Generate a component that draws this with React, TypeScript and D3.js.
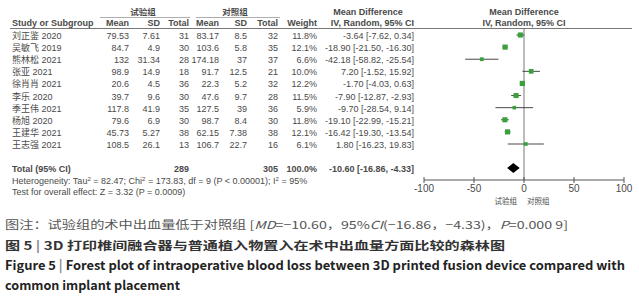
import React from "react";
import * as d3 from "d3";

const studies = ["刘正鉴 2020", "吴敏飞 2019", "熊林松 2021", "张亚 2021", "徐肖肖 2021", "李乐 2020", "季王伟 2021", "杨旭 2020", "王建华 2021", "王志强 2021"];
const expMean = [79.53, 84.7, 132, 98.9, 20.6, 39.7, 117.8, 79.6, 45.73, 108.5];
const expSD = [7.61, 4.9, 31.34, 14.9, 4.5, 9.6, 41.9, 6.9, 5.27, 26.1];
const expTotal = [31, 30, 28, 18, 36, 30, 35, 30, 38, 13];
const ctlMean = [83.17, 103.6, 174.18, 91.7, 22.3, 47.6, 127.5, 98.7, 62.15, 106.7];
const ctlSD = [8.5, 5.8, 37, 12.5, 5.2, 9.7, 39, 8.4, 7.38, 22.7];
const ctlTotal = [32, 35, 37, 21, 32, 28, 36, 30, 38, 16];
const weights = [11.8, 12.1, 6.6, 10.0, 12.2, 11.5, 5.9, 11.8, 12.1, 6.1];
const md = [-3.64, -18.9, -42.18, 7.2, -1.7, -7.9, -9.7, -19.1, -16.42, 1.8];
const ciLow = [-7.62, -21.5, -58.82, -1.52, -4.03, -12.87, -28.54, -22.99, -19.3, -16.23];
const ciHigh = [0.34, -16.3, -25.54, 15.92, 0.63, -2.93, 9.14, -15.21, -13.54, 19.83];
const pooled = { md: -10.6, low: -16.86, high: -4.33, expTotal: 289, ctlTotal: 305, weight: 100.0 };
const xTicks = [-100, -50, 0, 50, 100];

const FONT = "'Liberation Sans', Arial, 'Noto Sans CJK SC', sans-serif";
const CJK = "'Noto Sans CJK SC', sans-serif";
const TXT = "#4a4a4a";

export default function App() {
  const x = d3.scaleLinear().domain([-100, 100]).range([424, 624]);
  const y = d3.scaleLinear().domain([0, 9]).range([36, 145]);
  const size = d3.scaleSqrt().domain([0, 12.2]).range([0, 5.2]);
  const fmt = (v: number) => v.toFixed(2);
  const ci = (m: number, l: number, h: number) => `${fmt(m)} [${fmt(l)}, ${fmt(h)}]`;
  const axisY = 180;
  const totalY = 169;

  const cols = [
    { x: 129, vals: expMean.map(String) },
    { x: 160, vals: expSD.map(String) },
    { x: 189, vals: expTotal.map(String) },
    { x: 219, vals: ctlMean.map(String) },
    { x: 247, vals: ctlSD.map(String) },
    { x: 278, vals: ctlTotal.map(String) },
    { x: 317, vals: weights.map((w) => w.toFixed(1) + "%") },
    { x: 414, vals: md.map((m, i) => ci(m, ciLow[i], ciHigh[i])) },
  ];

  return (
    <svg width={639} height={300} style={{ position: "absolute", left: 0, top: 0, background: "#fff" }}>
      <rect width={639} height={300} fill="#fff" />
      <g fontFamily={FONT} fontSize={9} fill={TXT}>
        {/* group headers */}
        <text x={143} y={15} textAnchor="middle" fontWeight="bold" fontFamily={CJK} fontSize={8.5}>试验组</text>
        <text x={235} y={15} textAnchor="middle" fontWeight="bold" fontFamily={CJK} fontSize={8.5}>对照组</text>
        <line x1={100} x2={190} y1={17.5} y2={17.5} stroke="#777" strokeWidth={0.6} />
        <line x1={196} x2={280} y1={17.5} y2={17.5} stroke="#777" strokeWidth={0.6} />
        <text x={368} y={15} textAnchor="middle" fontWeight="bold">Mean Difference</text>
        <text x={414} y={26} textAnchor="end" fontWeight="bold">IV, Random, 95% CI</text>
        <text x={524} y={15} textAnchor="middle" fontWeight="bold">Mean Difference</text>
        <text x={524} y={26} textAnchor="middle" fontWeight="bold">IV, Random, 95% CI</text>
        <text x={12} y={26} fontWeight="bold">Study or Subgroup</text>
        <text x={129} y={26} textAnchor="end" fontWeight="bold">Mean</text>
        <text x={160} y={26} textAnchor="end" fontWeight="bold">SD</text>
        <text x={189} y={26} textAnchor="end" fontWeight="bold">Total</text>
        <text x={219} y={26} textAnchor="end" fontWeight="bold">Mean</text>
        <text x={247} y={26} textAnchor="end" fontWeight="bold">SD</text>
        <text x={278} y={26} textAnchor="end" fontWeight="bold">Total</text>
        <text x={317} y={26} textAnchor="end" fontWeight="bold">Weight</text>
        <line x1={10} x2={632} y1={28.5} y2={28.5} stroke="#555" strokeWidth={0.8} />

        {/* rows */}
        {studies.map((s, i) => (
          <text key={s} x={12} y={y(i) + 3}>{s}</text>
        ))}
        {cols.map((c, ci2) =>
          c.vals.map((v, i) => (
            <text key={ci2 + "-" + i} x={c.x} y={y(i) + 3} textAnchor="end">{v}</text>
          ))
        )}

        {/* total */}
        <text x={12} y={totalY + 3} fontWeight="bold">Total (95% CI)</text>
        <text x={189} y={totalY + 3} textAnchor="end" fontWeight="bold">{pooled.expTotal}</text>
        <text x={278} y={totalY + 3} textAnchor="end" fontWeight="bold">{pooled.ctlTotal}</text>
        <text x={317} y={totalY + 3} textAnchor="end" fontWeight="bold">{pooled.weight.toFixed(1)}%</text>
        <text x={414} y={totalY + 3} textAnchor="end" fontWeight="bold">{ci(pooled.md, pooled.low, pooled.high)}</text>
        <text x={12} y={184}>
          Heterogeneity: Tau<tspan dy={-3} fontSize={6}>2</tspan><tspan dy={3}> = 82.47; Chi</tspan>
          <tspan dy={-3} fontSize={6}>2</tspan><tspan dy={3}> = 173.83, df = 9 (P &lt; 0.00001); I</tspan>
          <tspan dy={-3} fontSize={6}>2</tspan><tspan dy={3}> = 95%</tspan>
        </text>
        <text x={12} y={195}>Test for overall effect: Z = 3.32 (P = 0.0009)</text>

        {/* plot */}
        <line x1={x(0)} x2={x(0)} y1={28.5} y2={axisY} stroke="#555" strokeWidth={0.8} />
        {studies.map((s, i) => {
          const cy = y(i) - 1;
          const sz = size(weights[i]);
          return (
            <g key={"m" + s}>
              <line x1={x(ciLow[i])} x2={x(ciHigh[i])} y1={cy} y2={cy} stroke="#333" strokeWidth={0.9} />
              <rect x={x(md[i]) - sz / 2} y={cy - sz / 2} width={sz} height={sz} fill="#3aa03a" />
            </g>
          );
        })}
        <polygon
          points={`${x(pooled.low)},${totalY - 1} ${x(pooled.md)},${totalY - 6} ${x(pooled.high)},${totalY - 1} ${x(pooled.md)},${totalY + 4}`}
          fill="#000"
        />
        <line x1={x(-100)} x2={x(100)} y1={axisY} y2={axisY} stroke="#444" strokeWidth={0.9} />
        {xTicks.map((t) => (
          <g key={t}>
            <line x1={x(t)} x2={x(t)} y1={axisY - 3} y2={axisY + 3} stroke="#444" strokeWidth={0.9} />
            <text x={x(t)} y={axisY + 12} textAnchor="middle" fontSize={10}>{t}</text>
          </g>
        ))}
        <text x={517} y={204} textAnchor="end" fontSize={7.5} fontFamily={CJK}>试验组</text>
        <text x={527} y={204} textAnchor="start" fontSize={7.5} fontFamily={CJK}>对照组</text>
      </g>

      {/* caption */}
      <g fontFamily={CJK}>
        <text x={5} y={229} fontSize={11} fill="#555" textLength={563} lengthAdjust="spacingAndGlyphs">
          图注：试验组的术中出血量低于对照组 [<tspan fontStyle="italic">MD</tspan>=−10.60，95%<tspan fontStyle="italic">CI</tspan>(−16.86，−4.33)，<tspan fontStyle="italic">P</tspan>=0.000 9]
        </text>
        <text x={5} y={250} fontSize={11.5} fill="#333" fontWeight="bold" textLength={500} lengthAdjust="spacingAndGlyphs">
          图 5 <tspan fill="#888">|</tspan> 3D 打印椎间融合器与普通植入物置入在术中出血量方面比较的森林图
        </text>
        <text x={5} y={270} fontSize={12.5} fill="#222" fontWeight="bold" textLength={620} lengthAdjust="spacingAndGlyphs">
          Figure 5 <tspan fill="#888">|</tspan> Forest plot of intraoperative blood loss between 3D printed fusion device compared with
        </text>
        <text x={5} y={290} fontSize={12.5} fill="#222" fontWeight="bold" textLength={175} lengthAdjust="spacingAndGlyphs">
          common implant placement
        </text>
      </g>
    </svg>
  );
}
